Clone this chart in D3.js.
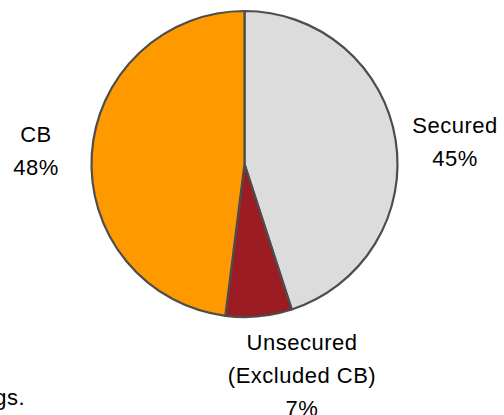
<!DOCTYPE html>
<html>
<head>
<meta charset="utf-8">
<script src="https://cdn.jsdelivr.net/npm/d3@7"></script>
<style>
  html, body { margin: 0; padding: 0; background: #fff; }
  svg { display: block; }
  text { font-family: "Liberation Sans", Arial, sans-serif; fill: #000; }
</style>
</head>
<body>
<svg id="chart" width="504" height="415"></svg>
<script>
// Debt composition
const categories = ["Secured", "Unsecured (Excluded CB)", "CB"];
const labelLines = [["Secured", "45%"], ["Unsecured", "(Excluded CB)", "7%"], ["CB", "48%"]];
const shares = [45, 7, 48];
const colors = ["#DCDCDC", "#9B1C22", "#FF9900"];
const footnote = "gs.";

const W = 504, H = 415;
const cx = 244.5, cy = 164, r = 153;

const svg = d3.select("#chart");

const pie = d3.pie().sort(null).value(d => d)(shares);
const arc = d3.arc().innerRadius(0).outerRadius(r);

const g = svg.append("g").attr("transform", `translate(${cx},${cy})`);

g.selectAll("path")
  .data(pie)
  .join("path")
  .attr("d", arc)
  .attr("fill", (d, i) => colors[i])
  .attr("stroke", "#4D4D4D")
  .attr("stroke-width", 2.2)
  .attr("stroke-linejoin", "round");

// label placement (center x, first baseline) for each slice
const labelPos = [
  { x: 455, y: 133 },
  { x: 302, y: 350 },
  { x: 36, y: 142 }
];
const lineGap = 33;

labelLines.forEach((lines, i) => {
  const t = svg.append("text")
    .attr("text-anchor", "middle")
    .attr("font-size", 22)
    .attr("letter-spacing", 0.5);
  lines.forEach((ln, j) => {
    t.append("tspan")
      .attr("x", labelPos[i].x)
      .attr("y", labelPos[i].y + j * lineGap)
      .text(ln);
  });
});

svg.append("text")
  .attr("x", 25)
  .attr("y", 405)
  .attr("text-anchor", "end")
  .attr("font-size", 22)
  .attr("letter-spacing", 0.5)
  .text(footnote);
</script>
</body>
</html>
